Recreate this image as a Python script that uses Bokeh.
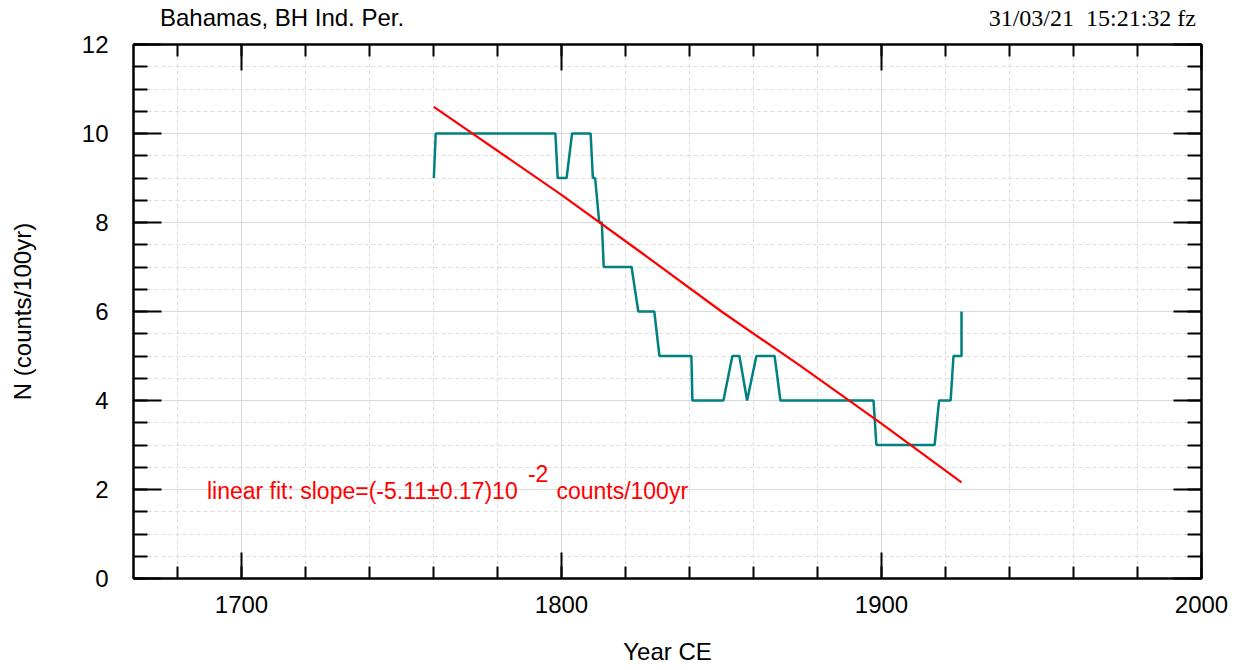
from bokeh.plotting import figure
from bokeh.models import (LinearAxis, SingleIntervalTicker, Range1d, Label,
                          ColumnDataSource, Grid, Div, CustomLabelingPolicy)
from bokeh.layouts import column
from bokeh.embed import file_html
from bokeh.resources import INLINE

# ---- data ----
count_years = [1760.1, 1760.7, 1798.1, 1798.8, 1801.6, 1803.3, 1809.1, 1809.8,
               1810.5, 1811.8, 1812.6, 1813.2, 1821.9, 1824.0, 1829.0, 1830.6,
               1840.6, 1840.9, 1850.6, 1853.4, 1855.6, 1858.0, 1860.9, 1866.6,
               1868.4, 1897.5, 1898.4, 1916.6, 1918.0, 1921.6, 1922.5, 1925.0,
               1925.0]
count_values = [9, 10, 10, 9, 9, 10, 10, 9,
                9, 8, 8, 7, 7, 6, 6, 5,
                5, 4, 4, 5, 5, 4, 5, 5,
                4, 4, 3, 3, 4, 4, 5, 5,
                6]

fit_years = [1760.1, 1800.0, 1825.0, 1850.0, 1875.0, 1900.0, 1925.0]
fit_values = [10.60, 8.62, 7.32, 6.00, 4.76, 3.48, 2.16]

x_tick_interval = 100
y_tick_interval = 2
x_limits = (1666.25, 2000)
y_limits = (0, 12)

title_text = "Bahamas, BH Ind. Per."
stamp_text = "31/03/21  15:21:32 fz"
x_label = "Year CE"
y_label = "N (counts/100yr)"
fit_text = "linear fit: slope=(-5.11\u00b10.17)10"
fit_exp = "-2"
fit_unit = "counts/100yr"

FONT = "Liberation Sans"
TEAL = "#008080"
RED = "#ff0000"

HEADER_H = 28

header = Div(
    text=(
        '<div style="position:relative;width:1255px;height:%dpx;overflow:visible;">'
        '<span style="position:absolute;left:160px;top:6px;'
        'font-family:\'Liberation Sans\';font-size:24px;line-height:24px;'
        'color:black;white-space:pre;">' + title_text + '</span>'
        '<span style="position:absolute;right:59px;top:6px;'
        'font-family:\'Liberation Serif\';font-size:24px;line-height:24px;'
        'color:black;white-space:pre;">' + stamp_text + '</span>'
        '</div>'
    ) % HEADER_H,
    width=1255, height=HEADER_H, margin=(0, 0, 0, 0),
    styles={"overflow": "visible"})

p = figure(frame_width=1068, frame_height=534,
           x_range=Range1d(*x_limits), y_range=Range1d(*y_limits),
           x_axis_type=None, y_axis_type=None,
           output_backend="svg", toolbar_location=None,
           min_border_left=133, min_border_right=54,
           min_border_top=44 - HEADER_H, min_border_bottom=92,
           background_fill_color="white", border_fill_alpha=0,
           margin=(0, 0, 0, 0))
p.outline_line_color = "black"
p.outline_line_width = 2

xt = SingleIntervalTicker(interval=x_tick_interval, num_minor_ticks=5)
yt = SingleIntervalTicker(interval=y_tick_interval, num_minor_ticks=4)

no_labels = CustomLabelingPolicy(code="""
const n = indices.size
for (let i = 0; i < n; i++) {
    if (typeof indices.unset === "function") { indices.unset(i) }
    else { indices.set(i, false) }
}
return indices
""")


def style_axis(ax, tick_major, tick_minor, show_labels):
    ax.axis_line_color = "black"
    ax.axis_line_width = 2
    ax.major_tick_in = tick_major
    ax.major_tick_out = 0
    ax.minor_tick_in = tick_minor
    ax.minor_tick_out = 0
    ax.major_tick_line_color = "black"
    ax.major_tick_line_width = 2
    ax.minor_tick_line_color = "black"
    ax.minor_tick_line_width = 2
    ax.major_label_text_font = FONT
    ax.major_label_text_color = "black"
    if show_labels:
        ax.major_label_text_font_size = "24px"
    else:
        ax.major_label_text_font_size = "2px"
        ax.major_label_standoff = 0
        ax.major_label_policy = no_labels


bottom = LinearAxis(ticker=xt, axis_label=x_label)
style_axis(bottom, 26, 12, True)
bottom.major_label_standoff = 17
bottom.axis_label_text_font = FONT
bottom.axis_label_text_font_size = "24px"
bottom.axis_label_text_font_style = "normal"
bottom.axis_label_text_color = "black"
bottom.axis_label_standoff = 22
p.add_layout(bottom, "below")

top = LinearAxis(ticker=xt)
style_axis(top, 26, 12, False)
p.add_layout(top, "above")

left = LinearAxis(ticker=yt, axis_label=y_label)
style_axis(left, 28, 14, True)
left.major_label_standoff = 25
left.axis_label_text_font = FONT
left.axis_label_text_font_size = "24px"
left.axis_label_text_font_style = "normal"
left.axis_label_text_color = "black"
left.axis_label_standoff = 43
p.add_layout(left, "left")

right = LinearAxis(ticker=yt)
style_axis(right, 28, 14, False)
p.add_layout(right, "right")

for dim, tk in ((0, xt), (1, yt)):
    g = Grid(dimension=dim, ticker=tk)
    g.grid_line_color = "#d9d9d9"
    g.grid_line_width = 1
    g.minor_grid_line_color = "#dcdcdc"
    g.minor_grid_line_width = 1
    g.minor_grid_line_dash = "4 3"
    g.level = "underlay"
    p.add_layout(g)

counts = ColumnDataSource(dict(x=count_years, y=count_values))
fit = ColumnDataSource(dict(x=fit_years, y=fit_values))
p.line("x", "y", source=counts, line_color=TEAL, line_width=2.5)
p.line("x", "y", source=fit, line_color=RED, line_width=2.2)

# fit annotation (inside the frame)
p.add_layout(Label(x=1689.2, y=1.976, text=fit_text, text_font=FONT,
                   text_font_size="23px", text_color=RED,
                   text_align="left", text_baseline="alphabetic"))
p.add_layout(Label(x=1789.5, y=2.35, text=fit_exp, text_font=FONT,
                   text_font_size="23px", text_color=RED,
                   text_align="left", text_baseline="alphabetic"))
p.add_layout(Label(x=1798.4, y=1.976, text=fit_unit, text_font=FONT,
                   text_font_size="23px", text_color=RED,
                   text_align="left", text_baseline="alphabetic"))

layout = column(header, p, spacing=0, margin=(0, 0, 0, 0))
open("out.html", "w").write(file_html(layout, INLINE))
